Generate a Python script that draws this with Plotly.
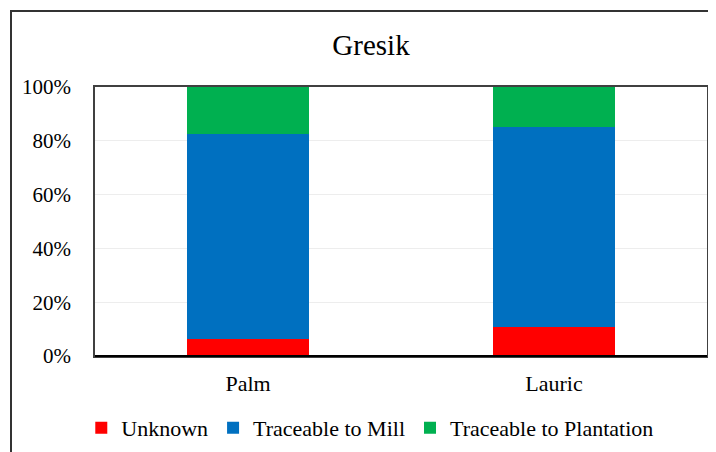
import plotly.graph_objects as go

categories = ["Palm", "Lauric"]
unknown = [6.2, 10.7]
mill = [76.4, 74.5]
plantation = [17.4, 14.8]
series_names = ["Unknown", "Traceable to Mill", "Traceable to Plantation"]
colors = ["#FF0000", "#0070C0", "#00B050"]
tick_vals = [0, 20, 40, 60, 80, 100]
tick_text = ["0%", "20%", "40%", "60%", "80%", "100%"]

FONT = "Liberation Serif"
W, H = 700, 444   # page has an 8px body margin; figure reaches the window's bottom edge

fig = go.Figure()
for name, vals, col in zip(series_names, [unknown, mill, plantation], colors):
    fig.add_trace(go.Bar(x=categories, y=vals, name=name,
                         marker=dict(color=col, line=dict(width=0))))

fig.update_layout(
    barmode="stack",
    bargap=0.6,
    width=W, height=H,
    margin=dict(l=87, r=1, t=79, b=96, autoexpand=False),
    paper_bgcolor="white", plot_bgcolor="white",
    font=dict(family=FONT, size=21, color="black"),
    title=dict(text="Gresik", x=(371 - 8) / W, xanchor="center", xref="container",
               y=1 - (45 - 8) / H, yanchor="middle", yref="container",
               font=dict(family=FONT, size=29, color="black")),
    showlegend=True,
    legend=dict(orientation="h", traceorder="normal",
                x=0.449, xanchor="center", xref="paper",
                y=1 - (428 - 8) / H, yanchor="middle", yref="container",
                font=dict(family=FONT, size=22, color="black"),
                itemwidth=30, tracegroupgap=0, bgcolor="rgba(0,0,0,0)"),
    xaxis=dict(showgrid=False, showline=True, linecolor="#404040", linewidth=1.5,
               mirror=True, ticks="", ticklabelstandoff=7,
               tickfont=dict(family=FONT, size=22, color="black")),
    yaxis=dict(range=[0, 100], tickvals=tick_vals, ticktext=tick_text,
               showgrid=True, gridcolor="#EDEDED", gridwidth=1,
               showline=True, linecolor="#404040", linewidth=1.5, mirror=True,
               zeroline=False, ticks="", ticklabelstandoff=18,
               tickfont=dict(family=FONT, size=21, color="black")),
    shapes=[
        dict(type="line", xref="paper", yref="paper", x0=0, x1=1, y0=0, y1=0,
             line=dict(color="black", width=2.2)),
        dict(type="rect", xref="paper", yref="paper",
             x0=(11 - 95) / 612, x1=1.2, y0=-0.5, y1=(356 - 11) / 269,
             line=dict(color="#333333", width=2), fillcolor="rgba(0,0,0,0)", layer="above"),
    ],
)

fig.write_html("out.html")
